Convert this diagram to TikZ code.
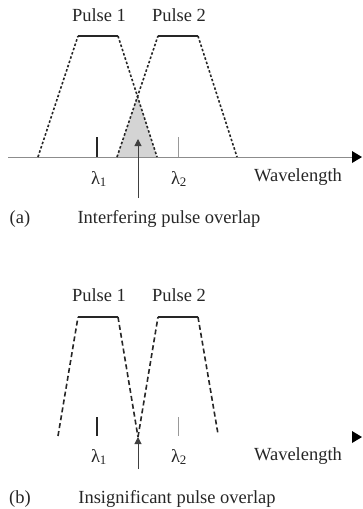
\documentclass[tikz,border=0pt]{standalone}
\usepackage{fontspec}
\setmainfont{Liberation Serif}
\usetikzlibrary{arrows.meta,intersections}
\begin{document}
\begin{tikzpicture}[x=1pt,y=-1pt,
  lbl/.style={inner sep=0pt, font=\fontsize{18.5}{21}\selectfont, text=black!85},
  topline/.style={line width=1.6pt, black!85},
  slopea/.style={line width=1.6pt, black!85, dash pattern=on 2.5pt off 2pt},
  slopeb/.style={line width=1.6pt, black!85, dash pattern=on 5pt off 3pt},
  axisline/.style={line width=0.9pt, black!45},
  tickdark/.style={line width=1.5pt, black!85},
  ticklight/.style={line width=0.8pt, black!40},
  uparrow/.style={line width=1pt, black!75, -{Triangle[length=7pt,width=7pt]}},
  headtri/.style={fill=black}]
\useasboundingbox (0,0) rectangle (362,509);
% ---------------- panel (a) ----------------
\coordinate (a1) at (38,157);
\coordinate (b1) at (78,36);
\coordinate (c1) at (118,36);
\coordinate (d1) at (157,157);
\coordinate (a2) at (117,157);
\coordinate (b2) at (158,36);
\coordinate (c2) at (198,36);
\coordinate (d2) at (237,157);
\coordinate (x0) at (8,157);
\coordinate (x1) at (354,157);
\coordinate (ov) at (137.5,96.5);
\fill[black!17] (a2) -- (ov) -- (d1) -- cycle;
\draw[axisline] (x0) -- (x1);
\fill[headtri] (352,151) -- (362,157) -- (352,163) -- cycle;
\draw[slopea] (a1) -- (b1);
\draw[topline] (b1) -- (c1);
\draw[slopea] (c1) -- (d1);
\draw[slopea] (a2) -- (b2);
\draw[topline] (b2) -- (c2);
\draw[slopea] (c2) -- (d2);
\coordinate (t1a) at (97,137); \coordinate (t1b) at (97,157);
\coordinate (t2a) at (178,137); \coordinate (t2b) at (178,157);
\draw[tickdark] (t1a) -- (t1b);
\draw[ticklight] (t2a) -- (t2b);
\node[lbl] (pa1) at (99,15) {Pulse 1};
\node[lbl] (pa2) at (179,15) {Pulse 2};
\node[lbl] (la1) at (99,179) {λ\textsubscript{1}};
\node[lbl] (la2) at (179,179) {λ\textsubscript{2}};
\node[lbl] (wa) at (298,177) {Wavelength};
\node[lbl] (taga) at (20,219) {(a)};
\node[lbl] (capa) at (169,219) {Interfering pulse overlap};
\coordinate (arra0) at (138,198);
\coordinate (arra1) at (138,139);
\draw[uparrow] (arra0) -- (arra1);
% ---------------- panel (b) ----------------
\coordinate (e1) at (58,436);
\coordinate (f1) at (78,317);
\coordinate (g1) at (118,317);
\coordinate (h1) at (138,437);
\coordinate (e2) at (138,437);
\coordinate (f2) at (158,317);
\coordinate (g2) at (198,317);
\coordinate (h2) at (218,434);
\fill[headtri] (352,431) -- (362,437) -- (352,443) -- cycle;
\draw[slopeb] (e1) -- (f1);
\draw[topline] (f1) -- (g1);
\draw[slopeb] (g1) -- (h1);
\draw[slopeb] (e2) -- (f2);
\draw[topline] (f2) -- (g2);
\draw[slopeb] (g2) -- (h2);
\coordinate (u1a) at (97,417); \coordinate (u1b) at (97,436);
\coordinate (u2a) at (178,417); \coordinate (u2b) at (178,436);
\draw[tickdark] (u1a) -- (u1b);
\draw[ticklight] (u2a) -- (u2b);
\node[lbl] (pb1) at (99,295) {Pulse 1};
\node[lbl] (pb2) at (179,295) {Pulse 2};
\node[lbl] (lb1) at (99,457) {λ\textsubscript{1}};
\node[lbl] (lb2) at (179,457) {λ\textsubscript{2}};
\node[lbl] (wb) at (298,456) {Wavelength};
\node[lbl] (tagb) at (20,499) {(b)};
\node[lbl] (capb) at (177,499) {Insignificant pulse overlap};
\coordinate (arrb0) at (138,469);
\coordinate (arrb1) at (138,437);
\draw[uparrow] (arrb0) -- (arrb1);
\end{tikzpicture}
\end{document}
